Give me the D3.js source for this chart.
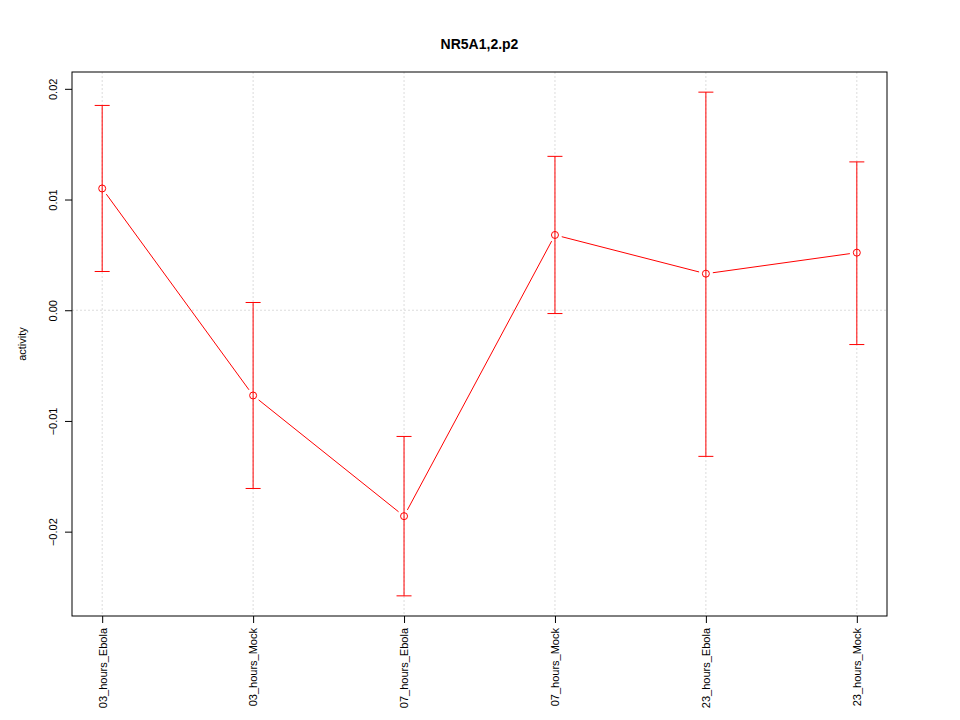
<!DOCTYPE html>
<html>
<head>
<meta charset="utf-8">
<script src="https://cdn.jsdelivr.net/npm/d3@7"></script>
<style>
  body { margin: 0; background: #fff; }
  text { font-family: "Liberation Sans", Arial, sans-serif; }
</style>
</head>
<body>
<svg id="chart" width="960" height="720"></svg>
<script>
// data
let categories = ["03_hours_Ebola", "03_hours_Mock", "07_hours_Ebola", "07_hours_Mock", "23_hours_Ebola", "23_hours_Mock"];
let means = [0.0110, -0.0077, -0.0186, 0.0068, 0.0033, 0.0052];
let upper = [0.0185, 0.0007, -0.0114, 0.0139, 0.0197, 0.0134];
let lower = [0.0035, -0.0161, -0.0258, -0.0003, -0.0132, -0.0031];
let yTicks = [-0.02, -0.01, 0.00, 0.01, 0.02];
let title = "NR5A1,2.p2";

let svg = d3.select("#chart");
let plotLeft = 72, plotRight = 887, plotTop = 72, plotBottom = 616;
let red = "#ff0000";

// R-style 4% padding around the data range
let yMin = d3.min(lower), yMax = d3.max(upper);
let pad = (yMax - yMin) * 0.04;
let yScale = d3.scaleLinear()
    .domain([yMin - pad, yMax + pad])
    .range([plotBottom, plotTop]);

let xScale = d3.scaleLinear()
    .domain([0.8, categories.length + 0.2])
    .range([plotLeft, plotRight]);

// grid
categories.forEach(function(d, i) {
    svg.append("line")
        .attr("x1", xScale(i + 1)).attr("x2", xScale(i + 1))
        .attr("y1", plotTop).attr("y2", plotBottom)
        .attr("stroke", "#dcdcdc")
        .attr("stroke-dasharray", "2,2");
});
svg.append("line")
    .attr("x1", plotLeft).attr("x2", plotRight)
    .attr("y1", yScale(0)).attr("y2", yScale(0))
    .attr("stroke", "#dcdcdc")
    .attr("stroke-dasharray", "2,2");

// error bars
categories.forEach(function(d, i) {
    let x = xScale(i + 1);
    svg.append("line")
        .attr("x1", x).attr("x2", x)
        .attr("y1", yScale(upper[i])).attr("y2", yScale(lower[i]))
        .attr("stroke", red);
    [upper[i], lower[i]].forEach(function(v) {
        svg.append("line")
            .attr("x1", x - 7.5).attr("x2", x + 7.5)
            .attr("y1", yScale(v)).attr("y2", yScale(v))
            .attr("stroke", red);
    });
});

// connecting segments, with gaps around the points like type="b"
let gap = 7;
for (let i = 0; i < means.length - 1; i++) {
    let x1 = xScale(i + 1), y1 = yScale(means[i]);
    let x2 = xScale(i + 2), y2 = yScale(means[i + 1]);
    let len = Math.hypot(x2 - x1, y2 - y1);
    let ux = (x2 - x1) / len, uy = (y2 - y1) / len;
    svg.append("line")
        .attr("x1", x1 + ux * gap).attr("y1", y1 + uy * gap)
        .attr("x2", x2 - ux * gap).attr("y2", y2 - uy * gap)
        .attr("stroke", red);
}

// points
svg.selectAll("circle.pt")
    .data(means)
    .enter()
    .append("circle")
    .attr("class", "pt")
    .attr("cx", function(d, i) { return xScale(i + 1); })
    .attr("cy", function(d) { return yScale(d); })
    .attr("r", 3.5)
    .attr("fill", "none")
    .attr("stroke", red);

// box
svg.append("rect")
    .attr("x", plotLeft).attr("y", plotTop)
    .attr("width", plotRight - plotLeft).attr("height", plotBottom - plotTop)
    .attr("fill", "none")
    .attr("stroke", "#000");

// y axis
let yAxis = svg.append("g")
    .attr("transform", "translate(" + plotLeft + ",0)")
    .call(d3.axisLeft(yScale).tickValues(yTicks).tickSize(7).tickFormat(d3.format(".2f")));
yAxis.select(".domain").remove();
yAxis.selectAll(".tick line").attr("stroke", "#000");
yAxis.selectAll(".tick text")
    .attr("transform", "rotate(-90)")
    .attr("x", 0)
    .attr("y", -15)
    .attr("dy", "0")
    .style("text-anchor", "middle")
    .style("font-size", "11px")
    .style("fill", "#000");

// x axis
let xAxis = svg.append("g")
    .attr("transform", "translate(0," + plotBottom + ")")
    .call(d3.axisBottom(xScale).tickValues(d3.range(1, categories.length + 1)).tickSize(7)
        .tickFormat(function(d) { return categories[d - 1]; }));
xAxis.select(".domain").remove();
xAxis.selectAll(".tick line").attr("stroke", "#000");
xAxis.selectAll(".tick text")
    .attr("transform", "rotate(-90)")
    .attr("x", -12)
    .attr("y", 0)
    .attr("dy", "0.35em")
    .style("text-anchor", "end")
    .style("font-size", "11px")
    .style("fill", "#000");

// title and axis label
svg.append("text")
    .attr("x", (plotLeft + plotRight) / 2)
    .attr("y", 49)
    .attr("text-anchor", "middle")
    .style("font-size", "14px")
    .style("font-weight", "bold")
    .text(title);

svg.append("text")
    .attr("transform", "translate(26," + ((plotTop + plotBottom) / 2) + ") rotate(-90)")
    .attr("text-anchor", "middle")
    .style("font-size", "11px")
    .text("activity");
</script>
</body>
</html>
